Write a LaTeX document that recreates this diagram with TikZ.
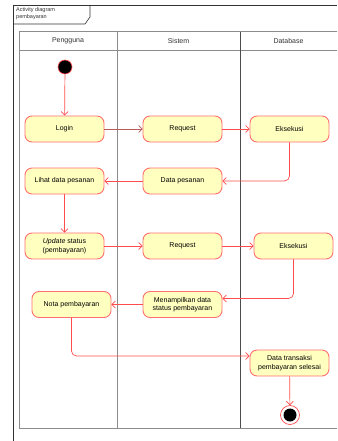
\documentclass[tikz,border=0pt]{standalone}
\usepackage{fontspec}
\setmainfont{Liberation Sans}
\usetikzlibrary{arrows.meta}
\definecolor{actfill}{HTML}{FFFFC0}
\definecolor{actline}{HTML}{FF7070}
\definecolor{flow}{HTML}{FF4D4D}
\definecolor{flowdark}{HTML}{B85A5A}
\definecolor{lane}{HTML}{8C8C8C}
\begin{document}
\begin{tikzpicture}[x=1pt,y=-1pt,
  act/.style={draw=actline,fill=actfill,line width=0.9pt,rounded corners=7pt,
    minimum width=79pt,minimum height=26pt,inner sep=1pt,align=center,
    font=\fontsize{7}{8.5}\selectfont},
  flowline/.style={draw=flow,line width=0.7pt,rounded corners=5pt,
    -{Straight Barb[length=3.5pt,width=7pt]}},
  lanehead/.style={font=\fontsize{7}{8}\selectfont,text=black!80}]
\useasboundingbox (0,0) rectangle (337,441);
\fill[white] (0,0) rectangle (337,441);
% frame
\draw[black!80,line width=0.6pt] (13,441) -- (13,5) -- (337,5);
\draw[black!80,line width=0.6pt] (13,24) -- (85,24) -- (90,17) -- (90,5);
\node[anchor=north west,align=left,inner sep=0pt,font=\fontsize{5.5}{7}\selectfont,text=black!80] (title) at (16,7) {Activity diagram\\pembayaran};
% swimlanes
\draw[lane,line width=1pt] (337,32) -- (19,32) -- (19,428) -- (337,428);
\draw[lane,line width=1pt] (19,50.5) -- (337,50.5);
\draw[lane,line width=1pt] (117,32) -- (117,428);
\draw[black!70,line width=0.6pt] (240,32) -- (240,428);
\node[lanehead] (h1) at (68,41) {Pengguna};
\node[lanehead] (h2) at (178.5,41) {Sistem};
\node[lanehead] (h3) at (288.5,41) {Database};
% nodes
\node[circle,fill=black,draw=flow,line width=0.6pt,minimum size=14pt,inner sep=0pt] (start) at (65,67) {};
\node[act] (login) at (64.5,129) {Login};
\node[act] (req1) at (182.5,129) {Request};
\node[act] (eks1) at (289.5,129) {Eksekusi};
\node[act] (lihat) at (64.5,181) {Lihat data pesanan};
\node[act] (datap) at (182.5,181) {Data pesanan};
\node[act] (upd) at (64.5,246) {\textit{Update} status\\(pembayaran)};
\node[act] (req2) at (182.5,246) {Request};
\node[act] (eks2) at (293.5,246) {Eksekusi};
\node[act] (nota) at (71.5,304.5) {Nota pembayaran};
\node[act] (menam) at (182.5,304.5) {Menampilkan data\\status pembayaran};
\node[act] (trans) at (289.5,363) {Data transaksi\\pembayaran selesai};
\node[circle,draw=flow,fill=white,line width=0.7pt,minimum size=19pt,inner sep=0pt] (end) at (290,415) {};
\node[circle,fill=black,minimum size=13pt,inner sep=0pt] (endin) at (end.center) {};
% flows
\draw[flowline] (start) -- (login);
\draw[flowline,draw=flowdark] (login) -- (req1);
\draw[flowline] (req1) -- (eks1);
\draw[flowline] (eks1.south) |- (datap.east);
\draw[flowline] (datap) -- (lihat);
\draw[flowline] (lihat) -- (upd);
\draw[flowline] (upd) -- (req2);
\draw[flowline] (req2) -- (eks2);
\draw[flowline] (eks2.south) |- ([yshift=6pt]menam.east);
\draw[flowline] (menam) -- (nota);
\draw[flowline] (nota.south) |- ([yshift=7pt]trans.west);
\draw[flowline] (trans) -- (end);
\end{tikzpicture}
\end{document}
